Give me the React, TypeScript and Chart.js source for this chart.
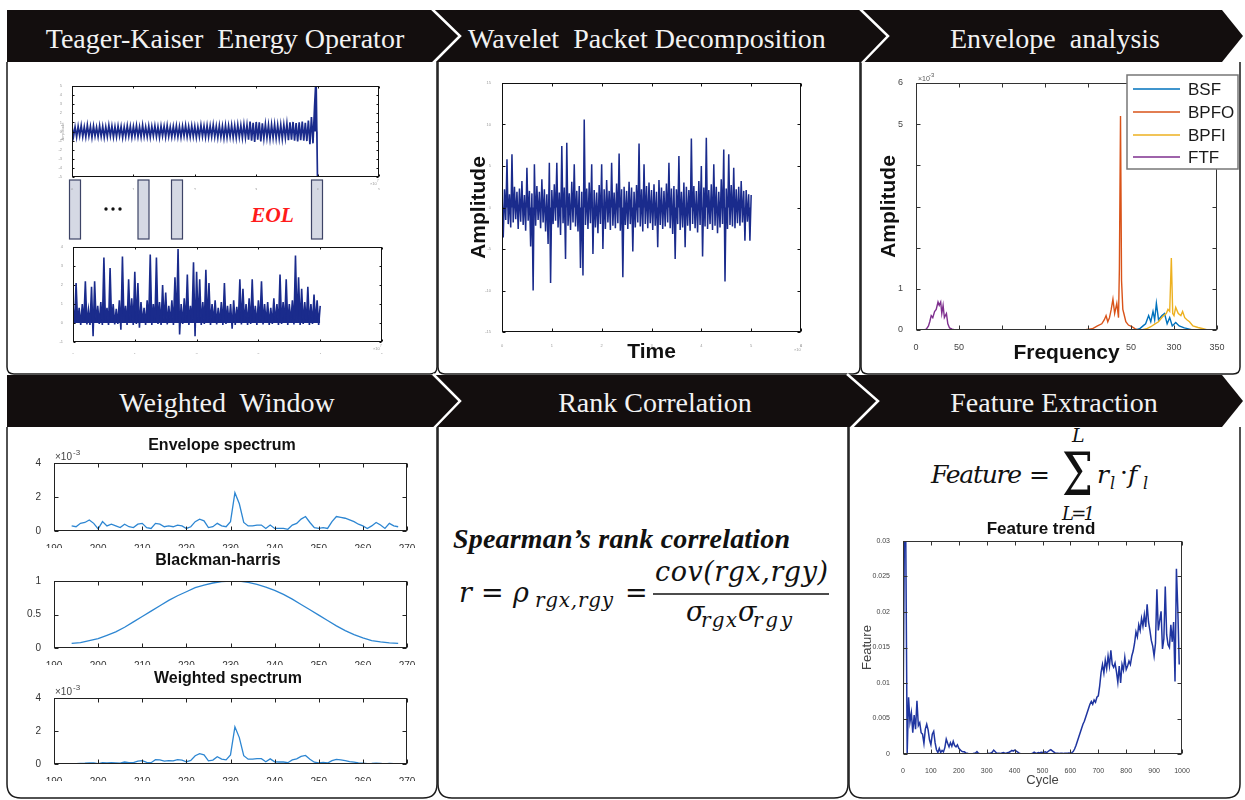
import React, { useEffect, useRef } from 'react';
import { Chart, registerables } from 'chart.js';

Chart.register(...registerables);

const SANS = '"Liberation Sans", Arial, sans-serif';
const SERIF = '"Liberation Serif", "Times New Roman", serif';
const MATH = '"DejaVu Serif", serif';

// ---------------- text ----------------
const HEADERS_TOP = ['Teager-Kaiser  Energy Operator', 'Wavelet  Packet Decomposition', 'Envelope  analysis'];
const HEADERS_BOTTOM = ['Weighted  Window', 'Rank Correlation', 'Feature Extraction'];

// ---------------- data ----------------
// Teager-Kaiser: raw run-to-failure signal (sample step 0.025 x1e7)
const TK_DT = 0.025;
const TKEO_RAW = [
  0.6, -0.55, 0.5, -0.62, 0.58, -0.48, 0.66, -0.57, 0.52, -0.6,
  0.7, -0.5, 0.55, -0.65, 0.6, -0.52, 0.48, -0.58, 0.62, -0.55,
  0.57, -0.63, 0.5, -0.56, 0.68, -0.5, 0.6, -0.6, 0.53, -0.58,
  0.61, -0.49, 0.56, -0.66, 0.5, -0.57, 0.63, -0.52, 0.58, -0.62,
  0.55, -0.5, 0.65, -0.56, 0.52, -0.6, 0.7, -0.55, 0.5, -0.58,
  0.6, -0.62, 0.56, -0.5, 0.62, -0.57, 0.53, -0.64, 0.6, -0.5,
  0.58, -0.6, 0.66, -0.55, 0.5, -0.6, 0.57, -0.53, 0.63, -0.58,
  0.55, -0.62, 0.6, -0.5, 0.68, -0.57, 0.54, -0.6, 0.62, -0.56,
  0.58, -0.64, 0.52, -0.58, 0.7, -0.55, 0.6, -0.62, 0.64, -0.6,
  0.62, -0.58, 0.72, -0.6, 0.58, -0.66, 0.65, -0.62, 0.6, -0.7,
  0.68, -0.64, 0.62, -0.6, 0.7, -0.66, 0.64, -0.7, 0.72, -0.62,
  0.66, -0.7, 0.75, -0.68, 0.7,
  -0.9, 1.1, -1.0, 0.95, -1.15, 1.05, -0.9, 1.0, -1.1, 0.9,
  -0.75, 0.8, -0.7, 0.72, -0.8, 0.75, -0.7, 0.78, -0.74, 0.7,
  -0.76, 0.72, -0.8, 0.74, -0.7, 0.85,
  -0.95, 1.0, -0.9, 1.05, -1.0, 0.92, -1.1, 1.0, -0.95, 1.08,
  -1.0, 0.95, -1.05, 1.2, -1.4, 1.6, -1.3, 2.7,
  6, -6,
];
// Teager-Kaiser energy of the selected window
const TKEO_ENERGY = [
  0.9, -0.05, 2.1, 0.0, 0.8, -0.1, 1.0, 0.05, 2.2, -0.08,
  0.7, -0.1, 1.9, -0.7, 2.2, 0.0, 0.9, -0.05, 1.1, -0.1,
  3.45, 0.05, 0.8, -0.1, 2.9, 0.0, 1.0, -0.08, 0.75, -0.05,
  1.2, -0.35, 3.5, 0.0, 0.9, -0.1, 2.3, 0.05, 1.3, -0.1,
  2.7, -0.05, 2.1, -0.25, 1.1, 0.0, 0.8, -0.1, 1.2, 0.05,
  3.6, -0.1, 1.0, 0.0, 3.45, -0.05, 1.1, -0.1, 2.0, 0.0,
  1.6, -0.08, 0.9, 0.05, 1.2, -0.1, 2.4, 0.0, 3.9, -0.6,
  1.0, -0.05, 1.3, 0.0, 2.55, -0.1, 0.9, 0.05, 3.2, -0.7,
  2.7, 0.0, 2.3, -0.1, 1.1, -0.05, 2.8, 0.0, 2.1, -0.1,
  1.0, 0.05, 1.2, -0.08, 0.8, 0.0, 1.1, -0.1, 2.1, -0.05,
  0.9, 0.0, 1.0, -0.3, 1.2, -0.1, 0.85, 0.05, 2.3, -0.08,
  1.8, 0.0, 1.0, -0.1, 1.3, -0.05, 2.3, 0.0, 0.9, -0.1,
  1.2, 0.05, 2.2, -0.08, 1.0, 0.0, 1.1, -0.1, 0.8, -0.05,
  1.3, 0.0, 1.0, -0.1, 2.55, -0.05, 1.1, 0.0, 2.3, -0.1,
  1.0, 0.05, 1.2, -0.08, 3.55, 0.0, 2.4, -0.1, 1.8, -0.05,
  1.1, 0.0, 1.9, -0.1, 1.0, -0.05, 1.5, 0.0, 1.2, -0.1,
  0.9,
];
// Wavelet packet node signal (time step 0.025)
const WPD_DT = 0.025;
const WPD_SIGNAL = [
  1.8, -3.6, 2.2, -1.5, 5.8, -2.0, 1.6, -2.4, 6.4, -1.8,
  2.5, -1.4, 1.9, -2.6, 2.3, -1.7, 3.2, -2.1, 1.5, -2.8,
  4.8, -1.6, 2.0, -4.7, 1.7, -10.0, 5.2, -2.2, 2.6, -1.5,
  1.9, -2.5, 3.4, -1.8, 2.2, -2.9, 1.6, -4.4, 5.4, -9.1,
  2.1, -2.0, 2.8, -1.6, 5.4, -2.4, 1.8, -3.3, 7.4, -1.9,
  2.4, -6.2, 7.8, -2.2, 1.7, -2.7, 3.1, -1.8, 5.2, -2.3,
  2.0, -2.9, 2.6, -7.3, 1.9, -8.2, 10.6, -2.1, 2.3, -2.6,
  3.0, -1.9, 5.2, -5.6, 2.1, -2.4, 1.8, -3.1, 2.7, -2.0,
  5.2, -5.0, 2.2, -2.6, 3.3, -1.8, 2.0, -2.7, 5.4, -2.2,
  1.8, -2.5, 2.9, -1.9, 6.5, -2.8, 2.2, -8.4, 2.5, -2.1,
  2.0, -2.6, 3.1, -2.0, 2.4, -5.3, 1.9, -2.4, 2.7, -1.8,
  7.7, -2.3, 2.2, -2.9, 5.2, -2.0, 2.6, -2.5, 3.0, -1.9,
  2.1, -2.7, 2.8, -2.2, 1.9, -4.8, 3.3, -2.1, 2.4, -2.6,
  2.0, -2.3, 2.9, -1.8, 5.4, -2.5, 2.3, -3.2, 2.6, -6.2,
  2.2, -2.0, 6.2, -2.7, 1.9, -2.4, 3.0, -4.8, 2.5, -2.2,
  2.1, -2.8, 8.3, -2.0, 2.6, -2.5, 2.0, -3.0, 3.2, -2.1,
  5.0, -5.9, 2.4, -2.3, 8.4, -2.6, 2.1, -2.0, 2.8, -2.7,
  5.2, -2.2, 2.5, -3.1, 1.9, -2.4, 3.4, -2.0, 7.0, -8.9,
  2.3, -2.6, 6.4, -2.1, 2.7, -2.3, 4.8, -2.5, 2.2, -1.9,
  2.5, -2.2, 3.2, -1.8, 2.0, -4.0, 2.1, -1.7, 1.6, -4.0,
  1.5,
];
// Envelope analysis (frequency in Hz, amplitude x1e-3)
const ENV_NAMES = ['BSF', 'BPFO', 'BPFI', 'FTF'];
const ENV_COLORS = ['#0072BD', '#D95319', '#EDB120', '#7E2F8E'];
const BSF_F = [255, 260, 264, 267, 270.5, 273, 275.6, 277.5, 279.5, 282, 286, 289, 292, 295, 298, 302, 306, 312, 318, 322];
const BSF_A = [0, 0.03, 0.1, 0.15, 0.35, 0.2, 0.45, 0.25, 0.65, 0.25, 0.35, 0.4, 0.15, 0.3, 0.1, 0.18, 0.1, 0.05, 0.02, 0];
const BPFO_F = [195, 205, 211, 216, 219, 221, 223, 225, 227, 229, 231, 233.5, 235.5, 236.5, 237.8, 239, 240.5, 241.7, 244, 247, 251, 255, 258];
const BPFO_A = [0, 0.03, 0.1, 0.15, 0.25, 0.35, 0.2, 0.3, 0.5, 0.75, 0.4, 0.65, 0.3, 1.5, 5.2, 1.2, 0.5, 0.4, 0.2, 0.12, 0.08, 0.03, 0];
const BPFI_F = [262, 268, 273, 278, 282, 285, 288, 291, 293, 295, 296.9, 298.5, 300, 302, 305, 308, 310, 312.5, 315, 318, 322, 328, 334, 339];
const BPFI_A = [0, 0.03, 0.08, 0.15, 0.2, 0.28, 0.35, 0.4, 0.5, 0.45, 1.75, 0.4, 0.35, 0.55, 0.4, 0.35, 0.45, 0.3, 0.25, 0.2, 0.1, 0.06, 0.03, 0];
const FTF_F = [0, 5, 9, 12, 14.5, 16, 17.7, 19.5, 21.6, 23.5, 25.6, 27, 28.7, 30, 31.5, 33, 35.4, 37, 39, 42, 46, 52];
const FTF_A = [0, 0, 0, 0.02, 0.1, 0.2, 0.35, 0.3, 0.45, 0.5, 0.68, 0.6, 0.68, 0.4, 0.6, 0.3, 0.4, 0.15, 0.05, 0.02, 0, 0];
const ENV_X_LABELS: Record<number, string> = { 0: '0', 50: '50', 250: '50', 300: '300', 350: '350' };
const ENV_Y_LABELS: Record<number, string> = { 0: '0', 1: '1', 5: '5', 6: '6' };
// Weighted window (frequency 194..268 Hz, step 1; amplitude x1e-3)
const WIN_START = 194;
const ENV_SPECTRUM = [
  0.3, 0.25, 0.45, 0.5, 0.65, 0.45, 0.12, 0.55, 0.3, 0.4,
  0.3, 0.2, 0.4, 0.25, 0.2, 0.4, 0.45, 0.2, 0.15, 0.45,
  0.4, 0.25, 0.3, 0.25, 0.35, 0.3, 0.15, 0.25, 0.55, 0.7,
  0.6, 0.2, 0.25, 0.45, 0.3, 0.25, 0.55, 2.25, 1.6, 0.5,
  0.3, 0.3, 0.35, 0.35, 0.15, 0.35, 0.15, 0.15, 0.15, 0.1,
  0.35, 0.45, 0.7, 0.85, 0.5, 0.2, 0.15, 0.2, 0.15, 0.55,
  0.85, 0.8, 0.75, 0.65, 0.55, 0.4, 0.3, 0.15, 0.3, 0.5,
  0.35, 0.15, 0.45, 0.3, 0.25,
];
const BH_STEP = 2;
const BLACKMAN_HARRIS = [
  0.07, 0.08, 0.11, 0.14, 0.19, 0.24, 0.31, 0.39, 0.47, 0.55,
  0.63, 0.71, 0.78, 0.84, 0.9, 0.94, 0.97, 0.99, 1.0, 1.0,
  0.98, 0.95, 0.91, 0.86, 0.8, 0.73, 0.65, 0.57, 0.49, 0.41,
  0.33, 0.26, 0.2, 0.15, 0.11, 0.09, 0.075, 0.07,
];
const WEIGHTED_SPECTRUM = [
  0.02, 0.02, 0.04, 0.05, 0.07, 0.06, 0.02, 0.08, 0.06, 0.08,
  0.07, 0.05, 0.12, 0.08, 0.08, 0.17, 0.2, 0.1, 0.08, 0.26,
  0.25, 0.17, 0.21, 0.19, 0.27, 0.24, 0.13, 0.22, 0.5, 0.63,
  0.56, 0.19, 0.24, 0.44, 0.3, 0.25, 0.55, 2.25, 1.6, 0.5,
  0.29, 0.29, 0.33, 0.32, 0.14, 0.31, 0.13, 0.12, 0.12, 0.08,
  0.25, 0.31, 0.46, 0.52, 0.29, 0.11, 0.07, 0.09, 0.06, 0.2,
  0.28, 0.25, 0.2, 0.15, 0.11, 0.07, 0.05, 0.02, 0.03, 0.05,
  0.03, 0.01, 0.03, 0.02, 0.02,
];
// Feature trend (cycle step 5, value x1e-3)
const FEAT_STEP = 5;
const FEATURE_E3 = [
  3, 31, 30, 0, 8, 4.5, 5.8, 3, 5.5, 3.5,
  7.5, 4, 4.4, 3, 2.8, 1.5, 3.5, 4.2, 3.4, 2,
  1.3, 2.8, 3.2, 1.6, 0.6, 0.2, 0.8, 0.2, 0.5, 0.3,
  0.9, 2.1, 1.5, 1.0, 1.6, 1.1, 1.8, 1.2, 1.0, 1.3,
  0.8, 0.6, 0.4, 0.3, 0.3, 0.15, 0.1, 0.05, 0.05, 0.02,
  0.05, 0.1, 0.15, 0.35, 0.1, 0.05, 0.03, 0.05, 0.02, 0.05,
  0.05, 0.1, 0.08, 0.15, 0.25, 0.55, 0.35, 0.15, 0.1, 0.12,
  0.08, 0.15, 0.2, 0.12, 0.1, 0.18, 0.25, 0.35, 0.5, 0.4,
  0.55, 0.45, 0.3, 0.15, 0.08, 0.03, 0.02, 0.02, 0.03, 0.02,
  0.05, 0.03, 0.05, 0.1, 0.25, 0.15, 0.1, 0.2, 0.15, 0.25,
  0.2, 0.25, 0.3, 0.2, 0.35, 0.5, 0.6, 0.45, 0.3, 0.15,
  0.1, 0.12, 0.08, 0.1, 0.12, 0.08, 0.1, 0.12, 0.1, 0.15,
  0.12, 0.2, 0.35, 0.7, 1.2, 1.8, 2.4, 3.0, 3.6, 4.2,
  4.6, 5.2, 5.8, 6.4, 7.0, 7.4, 7.0, 7.6, 7.3, 8.0,
  8.2, 9.6, 11.5, 12.6, 11.4, 13.2, 12.0, 13.8, 12.4, 14.6,
  12.6, 12.2, 12.8, 11.6, 10.1, 12.4, 10.0, 12.6, 11.8, 13.6,
  11.9, 12.4, 13.1, 12.6, 13.8, 14.5, 15.6, 17.2, 16.5, 18.2,
  17.4, 19.1, 18.0, 19.6, 17.9, 21.1, 18.6, 17.4, 16.0, 15.2,
  13.8, 15.6, 23.2, 17.4, 18.8, 20.1, 14.8, 16.2, 23.6, 16.8,
  15.4, 15.0, 18.2, 15.8, 18.6, 10.2, 26.1, 20.4, 12.6,
];

// ---------------- helpers ----------------
const NAVY = '#1a2b8c';
const WIN_BLUE = '#2d86d2';

const pts = (arr: number[], dt: number, x0 = 0) => arr.map((v, i) => ({ x: x0 + i * dt, y: v }));
const pairs = (f: number[], a: number[]) => f.map((x, i) => ({ x, y: a[i] }));

type AxOpt = {
  min: number; max: number; step: number; size: number; color?: string; fit: number; pad?: number;
  cb?: (v: number) => string; title?: any;
};
function axis(o: AxOpt, horizontal: boolean) {
  return {
    type: 'linear',
    min: o.min,
    max: o.max,
    ticks: {
      stepSize: o.step,
      autoSkip: false,
      maxRotation: 0,
      minRotation: 0,
      padding: o.pad ?? 3,
      color: o.color ?? '#222',
      font: { family: SANS, size: o.size },
      callback: o.cb ?? ((v: number) => String(v)),
    },
    grid: { display: false },
    border: { display: false },
    title: o.title ?? { display: false },
    afterFit: (s: any) => {
      if (horizontal) s.height = o.fit;
      else s.width = o.fit;
    },
  };
}
const xAx = (o: AxOpt) => axis(o, true);
const yAx = (o: AxOpt) => axis(o, false);

type DecoText = { text: string; x: number; y: number; font: string; color?: string; align?: string; baseline?: string };
type DecoLegend = {
  x0: number; y0: number; x1: number; y1: number; lineX0: number; lineX1: number; textX: number;
  rows: number[]; labels: string[]; colors: string[]; font: string;
};
function makeDeco(cfg: { box?: boolean; tickLen?: number; boxColor?: string; texts?: DecoText[]; legend?: DecoLegend }) {
  return {
    id: 'deco',
    afterDraw(chart: any) {
      const ctx = chart.ctx as CanvasRenderingContext2D;
      const a = chart.chartArea;
      ctx.save();
      if (cfg.box) {
        const xs = chart.scales.x;
        const ys = chart.scales.y;
        const L = Math.round(a.left) + 0.5;
        const R = Math.round(a.right) - 0.5;
        const T = Math.round(a.top) + 0.5;
        const B = Math.round(a.bottom) - 0.5;
        ctx.strokeStyle = cfg.boxColor ?? '#111';
        ctx.lineWidth = 1;
        ctx.strokeRect(L, T, R - L, B - T);
        const k = cfg.tickLen ?? 4;
        ctx.beginPath();
        for (const t of xs.ticks) {
          const p = Math.round(xs.getPixelForValue(t.value)) + 0.5;
          ctx.moveTo(p, B); ctx.lineTo(p, B - k);
          ctx.moveTo(p, T); ctx.lineTo(p, T + k);
        }
        for (const t of ys.ticks) {
          const p = Math.round(ys.getPixelForValue(t.value)) + 0.5;
          ctx.moveTo(L, p); ctx.lineTo(L + k, p);
          ctx.moveTo(R, p); ctx.lineTo(R - k, p);
        }
        ctx.stroke();
      }
      for (const t of cfg.texts ?? []) {
        ctx.font = t.font;
        ctx.fillStyle = t.color ?? '#111';
        ctx.textAlign = (t.align ?? 'left') as CanvasTextAlign;
        ctx.textBaseline = (t.baseline ?? 'alphabetic') as CanvasTextBaseline;
        ctx.fillText(t.text, t.x, t.y);
      }
      const lg = cfg.legend;
      if (lg) {
        ctx.fillStyle = '#fff';
        ctx.fillRect(lg.x0, lg.y0, lg.x1 - lg.x0, lg.y1 - lg.y0);
        ctx.strokeStyle = '#777';
        ctx.lineWidth = 1.5;
        ctx.strokeRect(lg.x0, lg.y0, lg.x1 - lg.x0, lg.y1 - lg.y0);
        ctx.font = lg.font;
        ctx.textAlign = 'left';
        ctx.textBaseline = 'middle';
        lg.labels.forEach((label, i) => {
          const y = lg.rows[i];
          ctx.strokeStyle = lg.colors[i];
          ctx.lineWidth = 1.5;
          ctx.beginPath();
          ctx.moveTo(lg.lineX0, y);
          ctx.lineTo(lg.lineX1, y);
          ctx.stroke();
          ctx.fillStyle = '#1a1a1a';
          ctx.fillText(label, lg.textX, y + 1);
        });
      }
      ctx.restore();
    },
  };
}

function ds(data: any[], color: string, width: number, order = 0, dense = false) {
  return {
    data, borderColor: color, borderWidth: width, pointRadius: 0, tension: 0, order,
    fill: dense ? 'origin' : false,
    backgroundColor: dense ? color : 'transparent',
  };
}

function lineCfg(datasets: any[], x: any, y: any, padding: any, plugin: any) {
  return {
    type: 'line',
    data: { datasets },
    options: {
      responsive: false,
      animation: false,
      devicePixelRatio: 1,
      events: [],
      layout: { padding },
      plugins: { legend: { display: false }, tooltip: { enabled: false }, title: { display: false }, filler: { propagate: false } },
      elements: { point: { radius: 0 }, line: { tension: 0 } },
      scales: { x, y },
    },
    plugins: [plugin],
  };
}

const tiny = (s: number) => `${s}px ${SANS}`;

type ChartSpec = { key: string; x: number; y: number; w: number; h: number; cfg: () => any };

const CHARTS: ChartSpec[] = [
  {
    key: 'tkeo-raw', x: 50, y: 74, w: 345, h: 116,
    cfg: () => lineCfg(
      [ds(pts(TKEO_RAW, TK_DT), NAVY, 1.7, 0, true)],
      xAx({ min: 0, max: 5, step: 1, size: 4, color: '#999', fit: 13, pad: 2 }),
      yAx({
        min: -5, max: 5, step: 1, size: 4, color: '#999', fit: 22, pad: 2,
        title: { display: true, text: 'Amplitude', color: '#999', font: { family: SANS, size: 4 }, padding: { top: 10, bottom: 0 } },
      }),
      { top: 12, right: 16, left: 0, bottom: 0 },
      makeDeco({
        box: true, tickLen: 2,
        texts: [
          { text: '×10', x: 320, y: 111, font: tiny(4), color: '#999' },
          { text: '7', x: 327, y: 108, font: tiny(3), color: '#999' },
        ],
      }),
    ),
  },
  {
    key: 'tkeo-energy', x: 50, y: 238, w: 345, h: 116,
    cfg: () => lineCfg(
      [ds(pts(TKEO_ENERGY, TK_DT), NAVY, 1.6, 0, true)],
      xAx({ min: 0, max: 5, step: 1, size: 4, color: '#999', fit: 12, pad: 2 }),
      yAx({ min: -1, max: 4, step: 1, size: 4, color: '#999', fit: 23, pad: 2 }),
      { top: 9, right: 13, left: 0, bottom: 0 },
      makeDeco({
        box: true, tickLen: 2,
        texts: [
          { text: '×10', x: 323, y: 112, font: tiny(4), color: '#999' },
          { text: '7', x: 330, y: 109, font: tiny(3), color: '#999' },
        ],
      }),
    ),
  },
  {
    key: 'wpd', x: 462, y: 76, w: 350, h: 290,
    cfg: () => lineCfg(
      [ds(pts(WPD_SIGNAL, WPD_DT), NAVY, 1.5, 0, true)],
      xAx({
        min: 0, max: 6, step: 1, size: 4, color: '#999', fit: 34, pad: 3,
        title: { display: true, text: 'Time', color: '#111', font: { family: SANS, size: 21, weight: 'bold' }, padding: { top: 0, bottom: 1 } },
      }),
      yAx({
        min: -15, max: 15, step: 5, size: 4, color: '#999', fit: 40, pad: 3,
        title: { display: true, text: 'Amplitude', color: '#111', font: { family: SANS, size: 21, weight: 'bold' }, padding: { top: 5, bottom: 0 } },
      }),
      { top: 7, right: 11, left: 0, bottom: 0 },
      makeDeco({
        box: true, tickLen: 3,
        texts: [
          { text: '×10', x: 332, y: 275, font: tiny(4), color: '#999' },
          { text: '4', x: 338, y: 271, font: tiny(3), color: '#999' },
        ],
      }),
    ),
  },
  {
    key: 'envelope', x: 866, y: 70, w: 376, h: 300,
    cfg: () => lineCfg(
      [
        ds(pairs(BSF_F, BSF_A), ENV_COLORS[0], 1.4, 4),
        ds(pairs(BPFO_F, BPFO_A), ENV_COLORS[1], 1.4, 3),
        ds(pairs(BPFI_F, BPFI_A), ENV_COLORS[2], 1.4, 2),
        ds(pairs(FTF_F, FTF_A), ENV_COLORS[3], 1.4, 1),
      ],
      xAx({
        min: 0, max: 350, step: 50, size: 9, color: '#444', fit: 40, pad: 4,
        cb: (v: number) => ENV_X_LABELS[v] ?? '',
        title: { display: true, text: 'Frequency', color: '#111', font: { family: SANS, size: 21, weight: 'bold' }, padding: { top: 0, bottom: 4 } },
      }),
      yAx({
        min: 0, max: 6, step: 1, size: 9, color: '#444', fit: 50, pad: 5,
        cb: (v: number) => ENV_Y_LABELS[v] ?? '',
        title: { display: true, text: 'Amplitude', color: '#111', font: { family: SANS, size: 21, weight: 'bold' }, padding: { top: 11, bottom: 0 } },
      }),
      { top: 13, right: 25, left: 0, bottom: 0 },
      makeDeco({
        box: true, tickLen: 4, boxColor: '#333',
        texts: [
          { text: '×10', x: 52, y: 11, font: tiny(7), color: '#555' },
          { text: '-3', x: 63, y: 7, font: tiny(6), color: '#555' },
        ],
        legend: {
          x0: 261, y0: 5, x1: 372, y1: 99, lineX0: 267, lineX1: 314, textX: 322,
          rows: [19, 42, 65, 87], labels: ENV_NAMES, colors: ENV_COLORS, font: `17px ${SANS}`,
        },
      }),
    ),
  },
  {
    key: 'env-spectrum', x: 14, y: 436, w: 420, h: 112,
    cfg: () => lineCfg(
      [ds(pts(ENV_SPECTRUM, 1, WIN_START), WIN_BLUE, 1.3)],
      xAx({ min: 190, max: 270, step: 10, size: 10, color: '#333', fit: 17, pad: 4 }),
      yAx({ min: 0, max: 4, step: 2, size: 10, color: '#333', fit: 40, pad: 5 }),
      { top: 27, right: 27, left: 0, bottom: 0 },
      makeDeco({
        box: true, tickLen: 4, boxColor: '#222',
        texts: [
          { text: 'Envelope spectrum', x: 208, y: 10, font: `bold 16px ${SANS}`, align: 'center', baseline: 'middle' },
          { text: '×10', x: 41, y: 24, font: tiny(10), color: '#444' },
          { text: '-3', x: 59, y: 19, font: tiny(8), color: '#444' },
        ],
      }),
    ),
  },
  {
    key: 'blackman', x: 14, y: 550, w: 420, h: 115,
    cfg: () => lineCfg(
      [ds(pts(BLACKMAN_HARRIS, BH_STEP, WIN_START), WIN_BLUE, 1.3)],
      xAx({ min: 190, max: 270, step: 10, size: 10, color: '#333', fit: 17, pad: 4 }),
      yAx({ min: 0, max: 1, step: 0.5, size: 10, color: '#333', fit: 40, pad: 5 }),
      { top: 31, right: 27, left: 0, bottom: 0 },
      makeDeco({
        box: true, tickLen: 4, boxColor: '#222',
        texts: [
          { text: 'Blackman-harris', x: 204, y: 11, font: `bold 16px ${SANS}`, align: 'center', baseline: 'middle' },
        ],
      }),
    ),
  },
  {
    key: 'weighted', x: 14, y: 668, w: 420, h: 113,
    cfg: () => lineCfg(
      [ds(pts(WEIGHTED_SPECTRUM, 1, WIN_START), WIN_BLUE, 1.3)],
      xAx({ min: 190, max: 270, step: 10, size: 10, color: '#333', fit: 17, pad: 4 }),
      yAx({ min: 0, max: 4, step: 2, size: 10, color: '#333', fit: 40, pad: 5 }),
      { top: 30, right: 27, left: 0, bottom: 0 },
      makeDeco({
        box: true, tickLen: 4, boxColor: '#222',
        texts: [
          { text: 'Weighted spectrum', x: 214, y: 11, font: `bold 16px ${SANS}`, align: 'center', baseline: 'middle' },
          { text: '×10', x: 41, y: 27, font: tiny(10), color: '#444' },
          { text: '-3', x: 59, y: 22, font: tiny(8), color: '#444' },
        ],
      }),
    ),
  },
  {
    key: 'feature', x: 850, y: 518, w: 350, h: 276,
    cfg: () => lineCfg(
      [ds(pts(FEATURE_E3, FEAT_STEP), '#1f35a0', 1.5)],
      xAx({
        min: 0, max: 1000, step: 100, size: 7, color: '#444', fit: 40, pad: 5,
        title: { display: true, text: 'Cycle', color: '#444', font: { family: SANS, size: 13 }, padding: { top: 0, bottom: 6 } },
      }),
      yAx({
        min: 0, max: 30, step: 5, size: 7, color: '#444', fit: 53, pad: 5,
        cb: (v: number) => (v === 0 ? '0' : String(v / 1000)),
        title: { display: true, text: 'Feature', color: '#444', font: { family: SANS, size: 13 }, padding: { top: 10, bottom: 0 } },
      }),
      { top: 23, right: 18, left: 0, bottom: 0 },
      makeDeco({
        box: true, tickLen: 4, boxColor: '#333',
        texts: [
          { text: 'Feature trend', x: 191, y: 11, font: `bold 17px ${SANS}`, align: 'center', baseline: 'middle' },
        ],
      }),
    ),
  },
];

function ChartCanvas({ spec }: { spec: ChartSpec }) {
  const ref = useRef<HTMLCanvasElement | null>(null);
  useEffect(() => {
    if (!ref.current) return;
    const chart = new Chart(ref.current, spec.cfg());
    return () => chart.destroy();
  }, [spec]);
  return (
    <canvas
      ref={ref}
      width={spec.w}
      height={spec.h}
      style={{ position: 'absolute', left: spec.x, top: spec.y, width: spec.w, height: spec.h }}
    />
  );
}

// ---------------- layout (decorations) ----------------
const HEADER_FILL = '#130e0e';
const TOP_CENTERS = [225, 647, 1055];
const BOTTOM_CENTERS = [227, 655, 1054];
const TOP_PANELS = [[7, 437], [438, 860], [861, 1240]];
const BOTTOM_PANELS = [[7, 437], [438, 848], [849, 1240]];

const panelPath = (x0: number, x1: number, y0: number, y1: number, r: number) =>
  `M${x0},${y0} V${y1 - r} Q${x0},${y1} ${x0 + r},${y1} H${x1 - r} Q${x1},${y1} ${x1},${y1 - r} V${y0}`;

function Decorations() {
  const headerText = (t: string, x: number, y: number, k: string) => (
    <text key={k} x={x} y={y} textAnchor="middle" fill="#f2f2f2" fontFamily={SERIF} fontSize={28} style={{ whiteSpace: 'pre' }}>
      {t}
    </text>
  );
  const m = (extra: any) => ({ fontFamily: MATH, fill: '#111', ...extra });
  return (
    <svg width={1245} height={800} style={{ position: 'absolute', left: 0, top: 0 }}>
      {TOP_PANELS.map(([a, b], i) => (
        <path key={'tp' + i} d={panelPath(a, b, 62, 374, 7)} fill="none" stroke="#1a1a1a" strokeWidth={1.5} />
      ))}
      {BOTTOM_PANELS.map(([a, b], i) => (
        <path key={'bp' + i} d={panelPath(a, b, 427, 798, 14)} fill="none" stroke="#1a1a1a" strokeWidth={1.5} />
      ))}
      <path d="M7,10 H1222 L1243,36 L1222,62 H7 Z" fill={HEADER_FILL} />
      <path d="M7,375 H1222 L1243,401 L1222,427 H7 Z" fill={HEADER_FILL} />
      <polyline points="432,9 460,36 433,63" fill="none" stroke="#fff" strokeWidth={2.5} />
      <polyline points="860,9 888,36 862,63" fill="none" stroke="#fff" strokeWidth={2.5} />
      <polyline points="433,374 460,401 434,428" fill="none" stroke="#fff" strokeWidth={2.5} />
      <polyline points="847,374 878,401 851,428" fill="none" stroke="#fff" strokeWidth={2.5} />
      {HEADERS_TOP.map((t, i) => headerText(t, TOP_CENTERS[i], 48, 'ht' + i))}
      {HEADERS_BOTTOM.map((t, i) => headerText(t, BOTTOM_CENTERS[i], 412, 'hb' + i))}

      {/* TKEO windows */}
      {[69.5, 138, 171.5, 311.5].map((x, i) => (
        <rect key={'w' + i} x={x} y={180} width={11} height={59} fill="#d5d9e4" stroke="#3d4466" strokeWidth={1.2} />
      ))}
      {[106, 113, 120].map((x, i) => (
        <circle key={'d' + i} cx={x} cy={209} r={1.7} fill="#111" />
      ))}
      <text x={251} y={222} fontFamily={SERIF} fontWeight="bold" fontStyle="italic" fontSize={22} fill="#ff1b1b" textLength={43} lengthAdjust="spacingAndGlyphs">
        EOL
      </text>

      {/* Spearman's rank correlation */}
      <text x={453} y={548} fontFamily={SERIF} fontWeight="bold" fontStyle="italic" fontSize={28} fill="#111" textLength={337} lengthAdjust="spacing">
        Spearman’s rank correlation
      </text>
      <text x={459} y={602} {...m({ fontStyle: 'italic', fontSize: 27 })}>r</text>
      <text x={481} y={602} {...m({ fontSize: 27 })}>=</text>
      <text x={513} y={602} {...m({ fontStyle: 'italic', fontSize: 27 })}>ρ</text>
      <text x={535} y={607} {...m({ fontStyle: 'italic', fontSize: 20 })} textLength={78} lengthAdjust="spacing">rgx,rgy</text>
      <text x={625} y={602} {...m({ fontSize: 27 })}>=</text>
      <line x1={653} x2={829} y1={594} y2={594} stroke="#111" strokeWidth={1.3} />
      <text x={655} y={581} {...m({ fontStyle: 'italic', fontSize: 27 })} textLength={173} lengthAdjust="spacing">cov(rgx,rgy)</text>
      <text x={686} y={621} {...m({ fontStyle: 'italic', fontSize: 27 })}>σ</text>
      <text x={701} y={627} {...m({ fontStyle: 'italic', fontSize: 20 })} textLength={36} lengthAdjust="spacing">rgx</text>
      <text x={738} y={621} {...m({ fontStyle: 'italic', fontSize: 27 })}>σ</text>
      <text x={753} y={627} {...m({ fontStyle: 'italic', fontSize: 20 })} textLength={39} lengthAdjust="spacing">rgy</text>

      {/* Feature formula */}
      <text x={931} y={483} {...m({ fontStyle: 'italic', fontSize: 25 })} textLength={91} lengthAdjust="spacing">Feature</text>
      <text x={1029} y={483} {...m({ fontSize: 25 })}>=</text>
      <text x={1062} y={495} {...m({ fontSize: 60 })} textLength={31} lengthAdjust="spacingAndGlyphs">Σ</text>
      <text x={1072} y={442} {...m({ fontStyle: 'italic', fontSize: 19 })}>L</text>
      <text x={1062} y={520} {...m({ fontStyle: 'italic', fontSize: 18 })} textLength={33} lengthAdjust="spacing">L=1</text>
      <text x={1097} y={483} {...m({ fontStyle: 'italic', fontSize: 25 })}>r</text>
      <text x={1110} y={489} {...m({ fontStyle: 'italic', fontSize: 16 })}>l</text>
      <text x={1120} y={481} {...m({ fontSize: 25 })}>·</text>
      <text x={1128} y={483} {...m({ fontStyle: 'italic', fontSize: 25 })}>f</text>
      <text x={1143} y={489} {...m({ fontStyle: 'italic', fontSize: 16 })}>l</text>
    </svg>
  );
}

export default function App() {
  return (
    <div style={{ position: 'fixed', left: 0, top: 0, width: 1245, height: 800, background: '#fff', overflow: 'hidden' }}>
      <Decorations />
      {CHARTS.map((c) => (
        <ChartCanvas key={c.key} spec={c} />
      ))}
    </div>
  );
}
